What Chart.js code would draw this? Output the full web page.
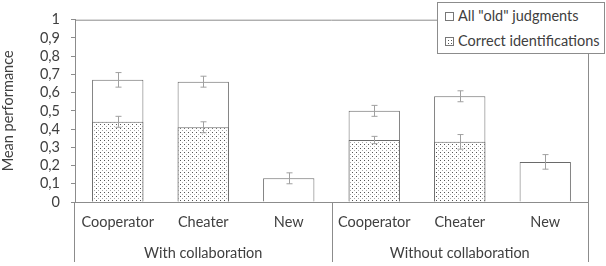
<!DOCTYPE html>
<html>
<head>
<meta charset="utf-8">
<script src="https://cdn.jsdelivr.net/npm/chart.js@4"></script>
<style>
  body { margin: 0; background: #fff; }
  #wrap { position: relative; width: 606px; height: 266px; }
  #legend {
    position: absolute; left: 437px; top: 2px; width: 166px; height: 50px;
    border: 1px solid #8c8c8c; background: #fff;
    font-family: Lato, sans-serif; font-size: 14.5px; color: #404040;
  }
  #legend div { position: absolute; left: 7px; height: 16px; line-height: 16px; white-space: nowrap; }
  #legend span.box {
    display: inline-block; width: 7px; height: 7px; border: 1px solid #777;
    margin-right: 4px; vertical-align: 0px; background: #fff;
  }
  #legend span.dots {
    background-image: radial-gradient(#555 0.7px, transparent 0.8px);
    background-size: 3px 3px; background-position: 1px 1px;
  }
</style>
</head>
<body>
<div id="wrap">
  <canvas id="chart" width="606" height="266"></canvas>
  <div id="legend">
    <div style="top:5px"><span class="box"></span>All "old" judgments</div>
    <div style="top:30px"><span class="box dots"></span>Correct identifications</div>
  </div>
</div>
<script>
// data
var categories = ['Cooperator', 'Cheater', 'New', 'Cooperator', 'Cheater', 'New']
var groups = ['With collaboration', 'Without collaboration']
var oldJudgments = [0.67, 0.66, 0.13, 0.50, 0.58, 0.22]
var oldErrors = [0.04, 0.03, 0.03, 0.03, 0.03, 0.04]
var correctIds = [0.44, 0.41, null, 0.34, 0.33, null]
var correctErrors = [0.03, 0.03, null, 0.02, 0.04, null]

var textColor = '#404040'
var lineColor = '#8c8c8c'
var font = { family: 'Lato, sans-serif', size: 14.5 }

function dotPattern() {
  var c = document.createElement('canvas')
  c.width = 4; c.height = 4
  var g = c.getContext('2d')
  g.fillStyle = '#fff'
  g.fillRect(0, 0, 4, 4)
  g.fillStyle = '#555'
  g.fillRect(0, 0, 1, 1)
  g.fillStyle = '#aaa'
  g.fillRect(2, 2, 1, 1)
  return g.createPattern(c, 'repeat')
}

var ctx = document.getElementById('chart').getContext('2d')

var errorBars = {
  id: 'errorBars',
  afterDatasetsDraw(chart) {
    var c = chart.ctx, x = chart.scales.x, y = chart.scales.y
    var sets = [[oldJudgments, oldErrors], [correctIds, correctErrors]]
    c.save()
    c.strokeStyle = '#a0a0a0'
    c.lineWidth = 1
    sets.forEach(function (s) {
      s[0].forEach(function (v, i) {
        if (v == null || s[1][i] == null) return
        var px = Math.round(x.getPixelForValue(i)) + 0.5
        var top = y.getPixelForValue(v + s[1][i])
        var bot = y.getPixelForValue(v - s[1][i])
        c.beginPath()
        c.moveTo(px, top); c.lineTo(px, bot)
        c.moveTo(px - 3, top); c.lineTo(px + 3, top)
        c.moveTo(px - 3, bot); c.lineTo(px + 3, bot)
        c.stroke()
      })
    })
    c.restore()
  }
}

var frame = {
  id: 'frame',
  afterDraw(chart) {
    var c = chart.ctx, a = chart.chartArea, x = chart.scales.x
    var bottom = chart.height - 4
    var mid = (x.getPixelForValue(2) + x.getPixelForValue(3)) / 2
    c.save()
    c.strokeStyle = lineColor
    c.lineWidth = 1
    c.beginPath()
    c.moveTo(a.left, a.top + 0.5); c.lineTo(a.right, a.top + 0.5)
    c.moveTo(a.right + 0.5, a.top); c.lineTo(a.right + 0.5, bottom)
    c.moveTo(a.left - 0.5, a.bottom); c.lineTo(a.left - 0.5, bottom)
    c.moveTo(Math.round(mid) + 0.5, a.bottom); c.lineTo(Math.round(mid) + 0.5, bottom)
    c.stroke()
    c.fillStyle = textColor
    c.font = '14.5px Lato, sans-serif'
    c.textAlign = 'center'
    c.textBaseline = 'middle'
    c.fillText(groups[0], (a.left + mid) / 2, 253)
    c.fillText(groups[1], (mid + a.right) / 2, 253)
    c.restore()
  }
}

var chart = new Chart(ctx, {
  type: 'bar',
  data: {
    labels: categories,
    datasets: [{
      label: 'All "old" judgments',
      data: oldJudgments,
      backgroundColor: '#fff',
      borderColor: '#6a6a6a',
      borderWidth: 1,
      grouped: false,
      order: 1
    }, {
      label: 'Correct identifications',
      data: correctIds,
      backgroundColor: dotPattern(),
      borderColor: '#6a6a6a',
      borderWidth: 1,
      grouped: false,
      order: 0
    }]
  },
  options: {
    responsive: false,
    animation: false,
    layout: { padding: { top: 18, right: 18 } },
    datasets: { bar: { categoryPercentage: 1, barPercentage: 0.6 } },
    plugins: { legend: { display: false }, tooltip: { enabled: false } },
    scales: {
      x: {
        grid: { display: false },
        border: { display: true, color: lineColor },
        ticks: { color: textColor, font: font, padding: 4, maxRotation: 0 },
        afterFit: function (s) { s.height = 64 }
      },
      y: {
        min: 0, max: 1,
        grid: { drawOnChartArea: false, tickLength: 4, color: lineColor },
        border: { display: true, color: lineColor },
        ticks: {
          stepSize: 0.1, autoSkip: false, color: textColor, font: font, padding: 11,
          callback: function (v) { return String(Math.round(v * 10) / 10).replace('.', ',') }
        },
        title: { display: true, text: 'Mean performance', color: textColor, font: font, padding: { top: 0, bottom: 2 } },
        afterFit: function (s) { s.width = 75 }
      }
    }
  },
  plugins: [errorBars, frame]
})
</script>
</body>
</html>
